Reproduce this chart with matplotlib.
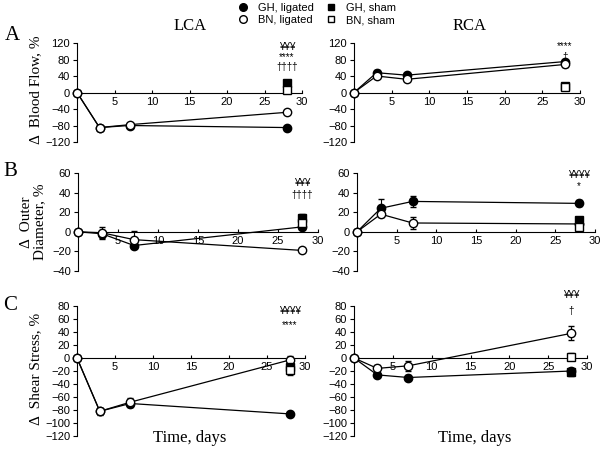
import matplotlib
matplotlib.use("Agg")
import matplotlib.pyplot as plt
from matplotlib.lines import Line2D

days = [0, 3, 7, 28]
sham_day = 28

# Panel A: blood flow
a_lca_gh = [0, -85, -80, -85]
a_lca_bn = [0, -85, -78, -48]
a_lca_gh_err = [0, 3, 3, 3]
a_lca_bn_err = [0, 3, 3, 4]
a_lca_sham_gh, a_lca_sham_gh_err = 22, 6
a_lca_sham_bn, a_lca_sham_bn_err = 6, 4
a_rca_gh = [0, 48, 42, 75]
a_rca_bn = [0, 40, 32, 68]
a_rca_gh_err = [0, 6, 4, 5]
a_rca_bn_err = [0, 5, 5, 5]
a_rca_sham_gh, a_rca_sham_gh_err = 16, 6
a_rca_sham_bn, a_rca_sham_bn_err = 13, 5

# Panel B: outer diameter
b_lca_gh = [0, -2, -14, 5]
b_lca_bn = [0, -1, -8, -19]
b_lca_gh_err = [0, 4, 2, 2]
b_lca_bn_err = [0, 6, 9, 1]
b_lca_sham_gh, b_lca_sham_gh_err = 14, 4
b_lca_sham_bn, b_lca_sham_bn_err = 9, 3
b_rca_gh = [0, 24, 31, 29]
b_rca_bn = [0, 18, 9, 8]
b_rca_gh_err = [0, 9, 6, 3]
b_rca_bn_err = [0, 2, 6, 3]
b_rca_sham_gh, b_rca_sham_gh_err = 12, 3
b_rca_sham_bn, b_rca_sham_bn_err = 5, 3

# Panel C: shear stress
c_lca_gh = [0, -82, -70, -86]
c_lca_bn = [0, -82, -68, -3]
c_lca_gh_err = [0, 5, 5, 2]
c_lca_bn_err = [0, 4, 6, 6]
c_lca_sham_gh, c_lca_sham_gh_err = -14, 5
c_lca_sham_bn, c_lca_sham_bn_err = -18, 8
c_rca_gh = [0, -26, -30, -20]
c_rca_bn = [0, -16, -12, 38]
c_rca_gh_err = [0, 3, 4, 4]
c_rca_bn_err = [0, 6, 8, 11]
c_rca_sham_gh, c_rca_sham_gh_err = -22, 5
c_rca_sham_bn, c_rca_sham_bn_err = 2, 5

# annotations (text, y value) at day 28
a_lca_ann = [("¥¥¥", 110), ("****", 86), ("††††", 62)]
a_rca_ann = [("****", 112), ("†", 86)]
b_lca_ann = [("¥¥¥", 50), ("††††", 38)]
b_rca_ann = [("¥¥¥¥", 58), ("*", 47)]
c_lca_ann = [("¥¥¥¥", 72), ("****", 50)]
c_rca_ann = [("¥¥¥", 97), ("†", 72)]

W, H = 600, 451
fig = plt.figure(figsize=(6, 4.51), dpi=100)
SANS = "Liberation Sans"
SERIF = "Liberation Serif"

def add_ax(x0, x1, ytop, ybot):
    return fig.add_axes([x0 / W, 1 - ybot / H, (x1 - x0) / W, (ybot - ytop) / H])

def draw(ax, gh, gh_e, bn, bn_e, sgh, sgh_e, sbn, sbn_e, ylim, yticks, ann):
    ms = 6
    ax.errorbar(days, gh, yerr=gh_e, color="black", lw=0.9, marker="o", ms=ms,
                mfc="black", mec="black", capsize=2, elinewidth=0.8, zorder=3)
    ax.errorbar(days, bn, yerr=bn_e, color="black", lw=0.9, marker="o", ms=ms,
                mfc="white", mec="black", mew=1, capsize=2, elinewidth=0.8, zorder=4)
    ax.errorbar([sham_day], [sgh], yerr=[sgh_e], color="black", marker="s", ms=ms - 0.5,
                mfc="black", mec="black", capsize=2, elinewidth=0.8, ls="none", zorder=5)
    ax.errorbar([sham_day], [sbn], yerr=[sbn_e], color="black", marker="s", ms=ms - 0.5,
                mfc="white", mec="black", mew=1, capsize=2, elinewidth=0.8, ls="none", zorder=6)
    ax.set_xlim(0, 30)
    ax.set_ylim(*ylim)
    ax.set_yticks(yticks)
    ax.set_xticks([5, 10, 15, 20, 25, 30])
    ax.spines["top"].set_visible(False)
    ax.spines["right"].set_visible(False)
    ax.spines["bottom"].set_position(("data", 0))
    for s in ("left", "bottom"):
        ax.spines[s].set_linewidth(0.8)
    ax.tick_params(axis="y", direction="out", length=3, width=0.8, labelsize=8, pad=2)
    ax.tick_params(axis="x", direction="in", length=2, width=0.8, labelsize=8, pad=3)
    for lab in ax.get_xticklabels() + ax.get_yticklabels():
        lab.set_fontfamily(SANS)
    for child in ax.get_children():
        try:
            child.set_clip_on(False)
        except Exception:
            pass
    for txt, yv in ann:
        ax.text(sham_day, yv, txt, ha="center", va="center", fontsize=7,
                family=SANS, clip_on=False)
    ax.patch.set_alpha(0)

axA1 = add_ax(77, 302, 43, 142)
draw(axA1, a_lca_gh, a_lca_gh_err, a_lca_bn, a_lca_bn_err, a_lca_sham_gh, a_lca_sham_gh_err,
     a_lca_sham_bn, a_lca_sham_bn_err, (-120, 120), [-120, -80, -40, 0, 40, 80, 120], a_lca_ann)
axA2 = add_ax(354, 580, 43, 142)
draw(axA2, a_rca_gh, a_rca_gh_err, a_rca_bn, a_rca_bn_err, a_rca_sham_gh, a_rca_sham_gh_err,
     a_rca_sham_bn, a_rca_sham_bn_err, (-120, 120), [-120, -80, -40, 0, 40, 80, 120], a_rca_ann)
axB1 = add_ax(78, 318, 173, 271)
draw(axB1, b_lca_gh, b_lca_gh_err, b_lca_bn, b_lca_bn_err, b_lca_sham_gh, b_lca_sham_gh_err,
     b_lca_sham_bn, b_lca_sham_bn_err, (-40, 60), [-40, -20, 0, 20, 40, 60], b_lca_ann)
axB2 = add_ax(357, 595, 173, 271)
draw(axB2, b_rca_gh, b_rca_gh_err, b_rca_bn, b_rca_bn_err, b_rca_sham_gh, b_rca_sham_gh_err,
     b_rca_sham_bn, b_rca_sham_bn_err, (-40, 60), [-40, -20, 0, 20, 40, 60], b_rca_ann)
axC1 = add_ax(77, 305, 306, 436)
draw(axC1, c_lca_gh, c_lca_gh_err, c_lca_bn, c_lca_bn_err, c_lca_sham_gh, c_lca_sham_gh_err,
     c_lca_sham_bn, c_lca_sham_bn_err, (-120, 80), list(range(-120, 81, 20)), c_lca_ann)
axC2 = add_ax(354, 587, 306, 436)
draw(axC2, c_rca_gh, c_rca_gh_err, c_rca_bn, c_rca_bn_err, c_rca_sham_gh, c_rca_sham_gh_err,
     c_rca_sham_bn, c_rca_sham_bn_err, (-120, 80), list(range(-120, 81, 20)), c_rca_ann)

def ftext(x, y, s, **kw):
    fig.text(x / W, 1 - y / H, s, **kw)

ftext(190, 26, "LCA", family=SERIF, fontsize=12, ha="center", va="center")
ftext(470, 26, "RCA", family=SERIF, fontsize=12, ha="center", va="center")
ftext(12, 36, "A", family=SERIF, fontsize=15, ha="center", va="center")
ftext(10, 171, "B", family=SERIF, fontsize=15, ha="center", va="center")
ftext(10, 306, "C", family=SERIF, fontsize=15, ha="center", va="center")
ftext(36, 90, "Δ  Blood Flow, %", family=SERIF, fontsize=11, rotation=90, ha="center", va="center")
ftext(33, 222, "Δ  Outer\nDiameter, %", family=SERIF, fontsize=11, rotation=90,
      ha="center", va="center", linespacing=1.0, multialignment="center")
ftext(36, 369, "Δ  Shear Stress, %", family=SERIF, fontsize=11, rotation=90, ha="center", va="center")
ftext(190, 438, "Time, days", family=SERIF, fontsize=12, ha="center", va="center")
ftext(475, 438, "Time, days", family=SERIF, fontsize=12, ha="center", va="center")

handles = [
    Line2D([], [], ls="none", marker="o", ms=5.5, mfc="black", mec="black"),
    Line2D([], [], ls="none", marker="o", ms=5.5, mfc="white", mec="black"),
    Line2D([], [], ls="none", marker="s", ms=5, mfc="black", mec="black"),
    Line2D([], [], ls="none", marker="s", ms=5, mfc="white", mec="black"),
]
labels = ["GH, ligated", "BN, ligated", "GH, sham", "BN, sham"]
fig.legend(handles, labels, ncol=2, loc="center", bbox_to_anchor=(316 / W, 1 - 14 / H),
           frameon=False, prop={"family": SANS, "size": 8}, handletextpad=0.8,
           columnspacing=0.9, labelspacing=0.25, handlelength=1.2, borderaxespad=0)

fig.savefig("out.png", dpi=100)
